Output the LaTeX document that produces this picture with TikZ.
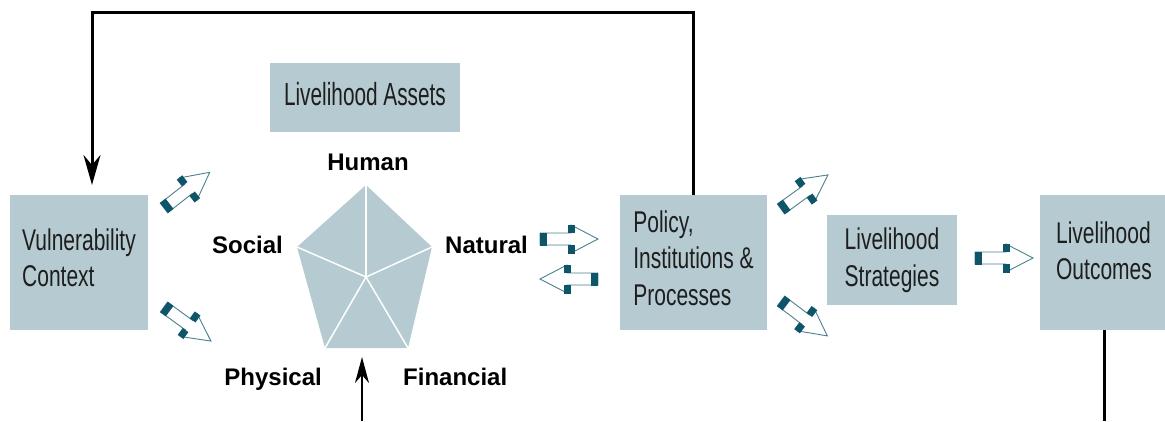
\documentclass[tikz,border=0pt]{standalone}
\usepackage{fontspec}
\setmainfont{Liberation Sans}
\newfontfamily\boxfont{Liberation Sans}[FakeStretch=0.7]
\newfontfamily\assetfont{Liberation Sans}[FakeStretch=0.65]
\usetikzlibrary{arrows.meta}
\definecolor{boxfill}{RGB}{181,203,209}
\definecolor{arrteal}{RGB}{15,85,105}
\definecolor{txt}{RGB}{30,30,30}
\tikzset{
  box/.style={fill=boxfill, draw=none, inner sep=0pt, align=left, text=txt,
    font=\boxfont\fontsize{30}{36.5}\selectfont},
  lab/.style={font=\bfseries\fontsize{24}{28}\selectfont, text=black, inner sep=0pt},
  fbline/.style={line width=3pt, black, -{Stealth[length=30pt,width=17pt,inset=10pt]}},
  inline/.style={line width=1.5pt, black, -{Stealth[length=26pt,width=14pt,inset=8pt]}},
  outline/.style={line width=3pt, black},
  harrow/.pic={
    \draw[arrteal!75, line width=0.9pt, line join=miter]
      (0,-6) -- (31,-6) -- (31,-14) -- (58,0) -- (31,14) -- (31,6) -- (0,6) -- cycle;
    \fill[arrteal] (0,-6.5) rectangle (7,6.5);
    \fill[arrteal] (27.5,-14.5) rectangle (34.5,-6);
    \fill[arrteal] (27.5,6) rectangle (34.5,14.5);
  }
}
\begin{document}
\begin{tikzpicture}[x=1pt,y=-1pt]
\useasboundingbox (0,0) rectangle (1165,421);

% boxes
\node[box, minimum width=138, minimum height=135] (vuln) at (79,262.5)
  {Vulnerability\\Context\rule[-10pt]{0pt}{0pt}};
\node[box, minimum width=190, minimum height=69, font=\assetfont\fontsize{32}{36}\selectfont] (assets) at (365,97.5)
  {Livelihood Assets\rule[-7pt]{0pt}{0pt}};
\node[box, minimum width=147, minimum height=135] (policy) at (693.5,262.5)
  {Policy,\\Institutions \&\\Processes\rule[-9pt]{0pt}{0pt}};
\node[box, minimum width=130, minimum height=90] (strat) at (892,260)
  {Livelihood\\Strategies};
\node[box, minimum width=128, minimum height=135] (outc) at (1104,262.5)
  {Livelihood\\Outcomes\rule[-24pt]{0pt}{0pt}};

% pentagon
\coordinate (pT) at (366,185);
\coordinate (pL) at (297,247);
\coordinate (pR) at (432,247);
\coordinate (pBL) at (325,348);
\coordinate (pBR) at (408,348);
\coordinate (pC) at (366,277);
\fill[boxfill] (pT) -- (pR) -- (pBR) -- (pBL) -- (pL) -- cycle;
\foreach \v in {pT,pR,pBR,pBL,pL} \draw[white, line width=1.5pt] (pC) -- (\v);

% asset labels
\node[lab, anchor=base] (human) at (368,170) {Human};
\node[lab, anchor=base east] (social) at (283,253) {Social};
\node[lab, anchor=base west] (natural) at (445,253) {Natural};
\node[lab, anchor=base east] (physical) at (322,385) {Physical};
\node[lab, anchor=base west] (financial) at (403,385) {Financial};

% feedback loop
\coordinate (fbtop) at (92,12.5);
\coordinate (fbtip) at (92,185);
\draw[fbline] (policy.north) |- (fbtop) -- (fbtip);

% arrow into pentagon
\coordinate (instart) at (362,421);
\coordinate (intip) at (362,357);
\draw[inline] (instart) -- (intip);

% outcomes line
\coordinate (outend) at (1104,421);
\draw[outline] (outc.south) -- (outend);

% hollow arrows
\pic[rotate=38] at (164,208) {harrow};
\pic[rotate=-36] at (164,307) {harrow};
\pic at (540,239) {harrow};
\pic[rotate=180] at (598,279) {harrow};
\pic[rotate=36] at (781,209) {harrow};
\pic[rotate=-37] at (781,301) {harrow};
\pic at (975,258) {harrow};
\end{tikzpicture}
\end{document}
